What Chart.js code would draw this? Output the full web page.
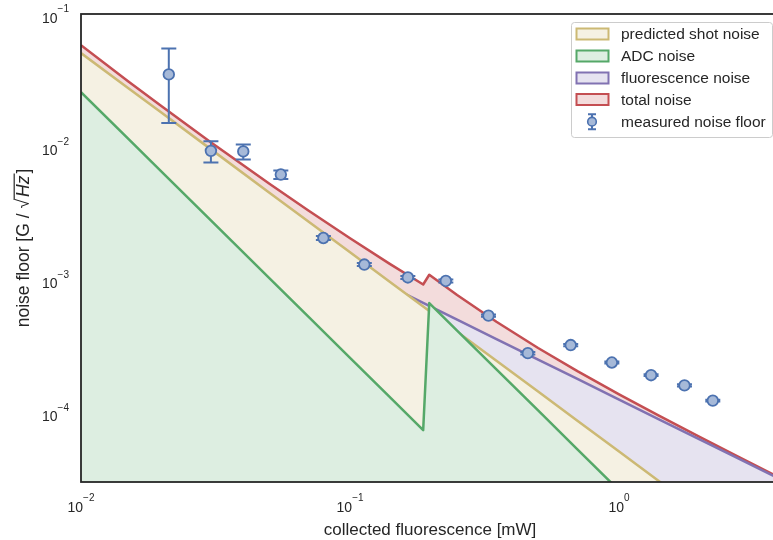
<!DOCTYPE html>
<html lang="en">
<head>
<meta charset="UTF-8">
<title>Noise floor vs collected fluorescence</title>
<script src="https://cdn.jsdelivr.net/npm/chart.js"></script>
<style>
    html, body { margin: 0; padding: 0; background: #fff; overflow: hidden; }
    #wrap { width: 790px; height: 540px; }
</style>
</head>
<body>
<div id="wrap"><canvas id="noiseChart" width="790" height="540"></canvas></div>
<script>
// collected fluorescence [mW] for the model curves
const powerMw = [0.01, 0.015, 0.02, 0.03, 0.05, 0.07, 0.1, 0.14, 0.187, 0.197, 0.25, 0.35, 0.5, 0.7, 1.0, 1.4, 2.0, 2.7, 4.0];
// model curves [G/sqrt(Hz)]
const shotNoise = [5.08e-2, 2.765e-2, 1.796e-2, 9.78e-3, 4.54e-3, 2.74e-3, 1.61e-3, 9.70e-4, 6.28e-4, 5.81e-4, 4.06e-4, 2.45e-4, 1.44e-4, 8.67e-5, 5.08e-5, 3.07e-5, 1.80e-5, 1.15e-5, 6.35e-6];
const adcNoise = [2.58e-2, 1.15e-2, 6.45e-3, 2.87e-3, 1.03e-3, 5.27e-4, 2.58e-4, 1.32e-4, 7.38e-5, 6.67e-4, 4.14e-4, 2.11e-4, 1.04e-4, 5.29e-5, 2.59e-5, 1.32e-5, 6.48e-6, 3.55e-6, 1.62e-6];
const fluorNoise = [1.25e-2, 8.33e-3, 6.25e-3, 4.17e-3, 2.5e-3, 1.79e-3, 1.25e-3, 8.93e-4, 6.68e-4, 6.35e-4, 5.0e-4, 3.57e-4, 2.5e-4, 1.79e-4, 1.25e-4, 8.93e-5, 6.25e-5, 4.63e-5, 3.13e-5];
const totalNoise = [5.83e-2, 3.11e-2, 2.01e-2, 1.10e-2, 5.29e-3, 3.32e-3, 2.05e-3, 1.32e-3, 9.20e-4, 1.09e-3, 7.66e-4, 4.82e-4, 3.06e-4, 2.05e-4, 1.37e-4, 9.53e-5, 6.54e-5, 4.78e-5, 3.19e-5];

// measured noise floor
const measPower = [0.0212, 0.0304, 0.0401, 0.0553, 0.0796, 0.113, 0.164, 0.227, 0.327, 0.458, 0.661, 0.940, 1.315, 1.75, 2.23];
const measNoise = [3.51e-2, 9.33e-3, 9.23e-3, 6.19e-3, 2.06e-3, 1.30e-3, 1.04e-3, 9.78e-4, 5.36e-4, 2.80e-4, 3.22e-4, 2.38e-4, 1.91e-4, 1.60e-4, 1.23e-4];
const measErr = [2.0e-2, 1.7e-3, 1.2e-3, 4.6e-4, 7e-5, 3.4e-5, 2.7e-5, 2.5e-5, 1.0e-5, 6e-6, 6e-6, 4e-6, 3e-6, 3e-6, 2e-6];

// tick labels
const xTicks = [0.01, 0.1, 1];
const xTickExp = ['\u22122', '\u22121', '0'];
const yTicks = [1e-1, 1e-2, 1e-3, 1e-4];
const yTickExp = ['\u22121', '\u22122', '\u22123', '\u22124'];

const legendLabels = ['predicted shot noise', 'ADC noise', 'fluorescence noise', 'total noise', 'measured noise floor'];

const FONT = '"Liberation Sans", Arial, sans-serif';
const INK = '#262626';
const BLUE = '#4c72b0';

function pts(xs, ys) {
    return xs.map((x, i) => ({ x: x, y: ys[i] }));
}

function curve(label, data, line, fill, order) {
    return {
        label: label,
        data: pts(powerMw, data),
        borderColor: line,
        backgroundColor: fill,
        borderWidth: 2.5,
        borderJoinStyle: 'round',
        pointRadius: 0,
        tension: 0,
        fill: 'start',
        order: order
    };
}

function drawPow(ctx, x, y, exp, align) {
    ctx.font = '14px ' + FONT;
    const wBase = ctx.measureText('10').width;
    ctx.font = '10px ' + FONT;
    const wExp = ctx.measureText(exp).width;
    const x0 = align === 'right' ? x - wBase - wExp : x - (wBase + wExp) / 2;
    ctx.fillStyle = INK;
    ctx.textAlign = 'left';
    ctx.textBaseline = 'alphabetic';
    ctx.font = '14px ' + FONT;
    ctx.fillText('10', x0, y);
    ctx.font = '10px ' + FONT;
    ctx.fillText(exp, x0 + wBase, y - 10.5);
}

const errorBars = {
    id: 'errorBars',
    beforeDatasetDraw(chart, args) {
        if (args.index !== 4) return;
        const ctx = chart.ctx, xs = chart.scales.x, ys = chart.scales.y;
        ctx.save();
        ctx.strokeStyle = BLUE;
        ctx.lineWidth = 2;
        measPower.forEach((p, i) => {
            const px = xs.getPixelForValue(p);
            const top = ys.getPixelForValue(measNoise[i] + measErr[i]);
            const bot = ys.getPixelForValue(measNoise[i] - measErr[i]);
            ctx.beginPath();
            ctx.moveTo(px, top); ctx.lineTo(px, bot);
            ctx.moveTo(px - 7.5, top); ctx.lineTo(px + 7.5, top);
            ctx.moveTo(px - 7.5, bot); ctx.lineTo(px + 7.5, bot);
            ctx.stroke();
        });
        ctx.restore();
    }
};

const decorations = {
    id: 'decorations',
    afterDraw(chart) {
        const ctx = chart.ctx, a = chart.chartArea;
        const xs = chart.scales.x, ys = chart.scales.y;
        ctx.save();

        // frame
        ctx.strokeStyle = INK;
        ctx.lineWidth = 1.8;
        ctx.strokeRect(a.left, a.top, a.right - a.left, a.bottom - a.top);

        // tick labels
        xTicks.forEach((v, i) => drawPow(ctx, xs.getPixelForValue(v), a.bottom + 29.5, xTickExp[i], 'center'));
        yTicks.forEach((v, i) => drawPow(ctx, a.left - 12, ys.getPixelForValue(v) + 8.5, yTickExp[i], 'right'));

        // x title
        ctx.fillStyle = INK;
        ctx.font = '17px ' + FONT;
        ctx.textAlign = 'center';
        ctx.textBaseline = 'alphabetic';
        ctx.fillText('collected fluorescence [mW]', (a.left + a.right) / 2, 535);

        // y title with sqrt(Hz)
        ctx.save();
        ctx.translate(29, (a.top + a.bottom) / 2);
        ctx.rotate(-Math.PI / 2);
        ctx.textAlign = 'left';
        const f = '17.5px ' + FONT;
        const p1 = 'noise floor [G / ', p2 = '\u221A', p3 = 'Hz', p4 = ']';
        ctx.font = f;
        const w1 = ctx.measureText(p1).width, w2 = ctx.measureText(p2).width + 1, w4 = ctx.measureText(p4).width;
        ctx.font = 'italic ' + f;
        const w3 = ctx.measureText(p3).width + 3;
        const x0 = -(w1 + w2 + w3 + w4) / 2;
        ctx.font = f;
        ctx.fillText(p1, x0, 0);
        ctx.fillText(p2, x0 + w1, 0);
        ctx.font = 'italic ' + f;
        ctx.fillText(p3, x0 + w1 + w2 + 1, 0);
        ctx.font = f;
        ctx.fillText(p4, x0 + w1 + w2 + w3, 0);
        ctx.strokeStyle = INK;
        ctx.lineWidth = 1.2;
        ctx.beginPath();
        ctx.moveTo(x0 + w1 + w2 - 2, -14.8);
        ctx.lineTo(x0 + w1 + w2 + w3, -14.8);
        ctx.stroke();
        ctx.restore();

        // legend
        const lx = 571, ly = 22, lw = 201, lh = 115;
        ctx.fillStyle = 'rgba(255,255,255,0.85)';
        ctx.strokeStyle = '#cccccc';
        ctx.lineWidth = 1;
        ctx.beginPath();
        ctx.roundRect(lx + 0.5, ly + 0.5, lw, lh, 3);
        ctx.fill();
        ctx.stroke();
        const ds = chart.data.datasets;
        const rowY = [34, 56, 78, 99.5, 121.7];
        const handles = [ds[2], ds[1], ds[3], ds[0]];
        handles.forEach((d, i) => {
            ctx.fillStyle = d.backgroundColor;
            ctx.strokeStyle = d.borderColor;
            ctx.lineWidth = 2;
            ctx.fillRect(576.5, rowY[i] - 5.5, 32, 11);
            ctx.strokeRect(576.5, rowY[i] - 5.5, 32, 11);
        });
        // errorbar handle
        const hx = 592, hy = rowY[4];
        ctx.strokeStyle = BLUE;
        ctx.lineWidth = 2;
        ctx.beginPath();
        ctx.moveTo(hx, hy - 7.5); ctx.lineTo(hx, hy + 7.5);
        ctx.moveTo(hx - 4, hy - 7.5); ctx.lineTo(hx + 4, hy - 7.5);
        ctx.moveTo(hx - 4, hy + 7.5); ctx.lineTo(hx + 4, hy + 7.5);
        ctx.stroke();
        ctx.fillStyle = '#a6b9d8';
        ctx.lineWidth = 1.6;
        ctx.beginPath();
        ctx.arc(hx, hy, 4.3, 0, Math.PI * 2);
        ctx.fill();
        ctx.stroke();

        ctx.fillStyle = INK;
        ctx.font = '15.5px ' + FONT;
        ctx.textAlign = 'left';
        ctx.textBaseline = 'middle';
        legendLabels.forEach((t, i) => ctx.fillText(t, 621, rowY[i] + 1));

        ctx.restore();
    }
};

new Chart(document.getElementById('noiseChart'), {
    type: 'line',
    data: {
        datasets: [
            curve('total noise', totalNoise, '#c44e52', '#f3dcdc', 4),
            curve('ADC noise', adcNoise, '#55a868', '#ddeee1', 1),
            curve('predicted shot noise', shotNoise, '#ccb974', '#f5f1e3', 2),
            curve('fluorescence noise', fluorNoise, '#8172b2', '#e6e3f0', 3),
            {
                label: 'measured noise floor',
                data: pts(measPower, measNoise),
                showLine: false,
                pointRadius: 5.3,
                pointBorderWidth: 1.8,
                pointBackgroundColor: '#a6b9d8',
                pointBorderColor: BLUE,
                order: 0
            }
        ]
    },
    options: {
        responsive: false,
        animation: false,
        events: [],
        devicePixelRatio: 1,
        layout: { padding: { left: 81, top: 14, right: 11, bottom: 58 } },
        scales: {
            x: { type: 'logarithmic', min: 0.01, max: 3.93, display: false },
            y: { type: 'logarithmic', min: 3e-5, max: 0.1, display: false }
        },
        plugins: {
            legend: { display: false },
            tooltip: { enabled: false },
            filler: { drawTime: 'beforeDatasetDraw' }
        }
    },
    plugins: [errorBars, decorations]
});
</script>
</body>
</html>
